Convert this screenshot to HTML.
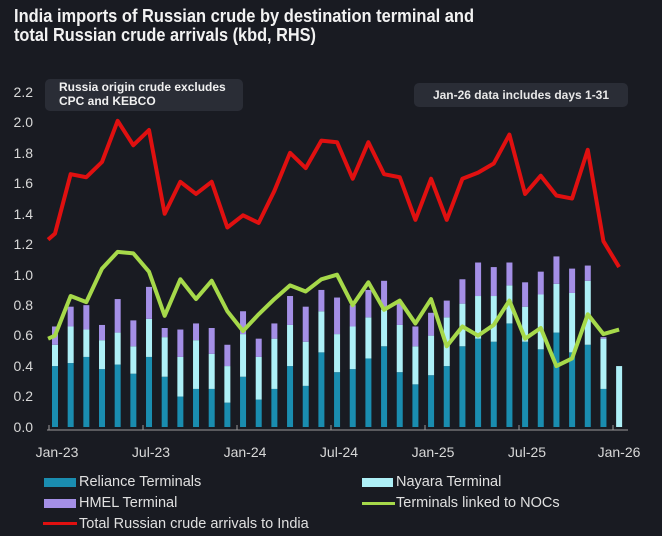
<!DOCTYPE html>
<html><head><meta charset="utf-8"><style>
html,body{margin:0;padding:0;background:#191b22;}
svg{display:block;}
text{font-family:"Liberation Sans",sans-serif;}
.ax{font-family:"Liberation Sans Narrow","Liberation Sans",sans-serif;font-size:14px;fill:#d8d8d8;}
.lg{font-family:"Liberation Sans Narrow","Liberation Sans",sans-serif;font-size:14.5px;fill:#e0e0e0;}
</style></head><body>
<svg width="662" height="536" viewBox="0 0 662 536" xmlns="http://www.w3.org/2000/svg">
<rect width="662" height="536" fill="#191b22"/>
<text x="14" y="22" font-size="18" font-weight="bold" fill="#f2f2f2" textLength="460" lengthAdjust="spacingAndGlyphs">India imports of Russian crude by destination terminal and</text>
<text x="14" y="41" font-size="18" font-weight="bold" fill="#f2f2f2" textLength="302" lengthAdjust="spacingAndGlyphs">total Russian crude arrivals (kbd, RHS)</text>

<g class="ax" text-anchor="end">
<text x="33" y="432">0.0</text><text x="33" y="401">0.2</text><text x="33" y="371">0.4</text><text x="33" y="340">0.6</text><text x="33" y="310">0.8</text><text x="33" y="280">1.0</text><text x="33" y="249">1.2</text><text x="33" y="219">1.4</text><text x="33" y="188">1.6</text><text x="33" y="158">1.8</text><text x="33" y="127">2.0</text><text x="33" y="97">2.2</text>
</g>

<rect x="45" y="79" width="198" height="32" rx="5" fill="#2a2d36"/>
<text x="59" y="91" font-size="12" font-weight="bold" fill="#f0f0f0">Russia origin crude excludes</text>
<text x="59" y="105" font-size="12" font-weight="bold" fill="#f0f0f0">CPC and KEBCO</text>
<rect x="414" y="83" width="214" height="24" rx="5" fill="#2a2d36"/>
<text x="521" y="99" font-size="12" font-weight="bold" fill="#e8e8e8" text-anchor="middle">Jan-26 data includes days 1-31</text>

<g transform="translate(52,427) scale(15.67,-152.3)">
<g fill="#1a8db0">
<rect x="0" y="0" width="0.383" height="0.40"/><rect x="1" y="0" width="0.383" height="0.42"/><rect x="2" y="0" width="0.383" height="0.46"/><rect x="3" y="0" width="0.383" height="0.38"/><rect x="4" y="0" width="0.383" height="0.41"/><rect x="5" y="0" width="0.383" height="0.35"/><rect x="6" y="0" width="0.383" height="0.46"/><rect x="7" y="0" width="0.383" height="0.33"/><rect x="8" y="0" width="0.383" height="0.20"/><rect x="9" y="0" width="0.383" height="0.25"/><rect x="10" y="0" width="0.383" height="0.25"/><rect x="11" y="0" width="0.383" height="0.16"/><rect x="12" y="0" width="0.383" height="0.33"/><rect x="13" y="0" width="0.383" height="0.18"/><rect x="14" y="0" width="0.383" height="0.25"/><rect x="15" y="0" width="0.383" height="0.40"/><rect x="16" y="0" width="0.383" height="0.27"/><rect x="17" y="0" width="0.383" height="0.49"/><rect x="18" y="0" width="0.383" height="0.36"/><rect x="19" y="0" width="0.383" height="0.38"/><rect x="20" y="0" width="0.383" height="0.45"/><rect x="21" y="0" width="0.383" height="0.53"/><rect x="22" y="0" width="0.383" height="0.36"/><rect x="23" y="0" width="0.383" height="0.28"/><rect x="24" y="0" width="0.383" height="0.34"/><rect x="25" y="0" width="0.383" height="0.40"/><rect x="26" y="0" width="0.383" height="0.53"/><rect x="27" y="0" width="0.383" height="0.58"/><rect x="28" y="0" width="0.383" height="0.56"/><rect x="29" y="0" width="0.383" height="0.68"/><rect x="30" y="0" width="0.383" height="0.56"/><rect x="31" y="0" width="0.383" height="0.51"/><rect x="32" y="0" width="0.383" height="0.62"/><rect x="33" y="0" width="0.383" height="0.49"/><rect x="34" y="0" width="0.383" height="0.54"/><rect x="35" y="0" width="0.383" height="0.25"/>
</g>
<g fill="#aef0f7">
<rect x="0" y="0.40" width="0.383" height="0.14"/><rect x="1" y="0.42" width="0.383" height="0.24"/><rect x="2" y="0.46" width="0.383" height="0.18"/><rect x="3" y="0.38" width="0.383" height="0.19"/><rect x="4" y="0.41" width="0.383" height="0.21"/><rect x="5" y="0.35" width="0.383" height="0.18"/><rect x="6" y="0.46" width="0.383" height="0.25"/><rect x="7" y="0.33" width="0.383" height="0.26"/><rect x="8" y="0.20" width="0.383" height="0.26"/><rect x="9" y="0.25" width="0.383" height="0.32"/><rect x="10" y="0.25" width="0.383" height="0.23"/><rect x="11" y="0.16" width="0.383" height="0.24"/><rect x="12" y="0.33" width="0.383" height="0.28"/><rect x="13" y="0.18" width="0.383" height="0.28"/><rect x="14" y="0.25" width="0.383" height="0.33"/><rect x="15" y="0.40" width="0.383" height="0.27"/><rect x="16" y="0.27" width="0.383" height="0.29"/><rect x="17" y="0.49" width="0.383" height="0.27"/><rect x="18" y="0.36" width="0.383" height="0.25"/><rect x="19" y="0.38" width="0.383" height="0.28"/><rect x="20" y="0.45" width="0.383" height="0.27"/><rect x="21" y="0.53" width="0.383" height="0.24"/><rect x="22" y="0.36" width="0.383" height="0.31"/><rect x="23" y="0.28" width="0.383" height="0.25"/><rect x="24" y="0.34" width="0.383" height="0.26"/><rect x="25" y="0.40" width="0.383" height="0.32"/><rect x="26" y="0.53" width="0.383" height="0.28"/><rect x="27" y="0.58" width="0.383" height="0.28"/><rect x="28" y="0.56" width="0.383" height="0.30"/><rect x="29" y="0.68" width="0.383" height="0.25"/><rect x="30" y="0.56" width="0.383" height="0.23"/><rect x="31" y="0.51" width="0.383" height="0.36"/><rect x="32" y="0.62" width="0.383" height="0.32"/><rect x="33" y="0.49" width="0.383" height="0.39"/><rect x="34" y="0.54" width="0.383" height="0.42"/><rect x="35" y="0.25" width="0.383" height="0.33"/><rect x="36" y="0" width="0.383" height="0.40"/>
</g>
<g fill="#a48fe6">
<rect x="0" y="0.54" width="0.383" height="0.12"/><rect x="1" y="0.66" width="0.383" height="0.13"/><rect x="2" y="0.64" width="0.383" height="0.16"/><rect x="3" y="0.57" width="0.383" height="0.10"/><rect x="4" y="0.62" width="0.383" height="0.22"/><rect x="5" y="0.53" width="0.383" height="0.17"/><rect x="6" y="0.71" width="0.383" height="0.21"/><rect x="7" y="0.59" width="0.383" height="0.06"/><rect x="8" y="0.46" width="0.383" height="0.18"/><rect x="9" y="0.57" width="0.383" height="0.11"/><rect x="10" y="0.48" width="0.383" height="0.17"/><rect x="11" y="0.40" width="0.383" height="0.14"/><rect x="12" y="0.61" width="0.383" height="0.15"/><rect x="13" y="0.46" width="0.383" height="0.12"/><rect x="14" y="0.58" width="0.383" height="0.10"/><rect x="15" y="0.67" width="0.383" height="0.19"/><rect x="16" y="0.56" width="0.383" height="0.23"/><rect x="17" y="0.76" width="0.383" height="0.14"/><rect x="18" y="0.61" width="0.383" height="0.24"/><rect x="19" y="0.66" width="0.383" height="0.14"/><rect x="20" y="0.72" width="0.383" height="0.18"/><rect x="21" y="0.77" width="0.383" height="0.19"/><rect x="22" y="0.67" width="0.383" height="0.15"/><rect x="23" y="0.53" width="0.383" height="0.13"/><rect x="24" y="0.60" width="0.383" height="0.15"/><rect x="25" y="0.72" width="0.383" height="0.11"/><rect x="26" y="0.81" width="0.383" height="0.16"/><rect x="27" y="0.86" width="0.383" height="0.22"/><rect x="28" y="0.86" width="0.383" height="0.19"/><rect x="29" y="0.93" width="0.383" height="0.15"/><rect x="30" y="0.79" width="0.383" height="0.16"/><rect x="31" y="0.87" width="0.383" height="0.15"/><rect x="32" y="0.94" width="0.383" height="0.18"/><rect x="33" y="0.88" width="0.383" height="0.16"/><rect x="34" y="0.96" width="0.383" height="0.10"/><rect x="35" y="0.58" width="0.383" height="0.01"/>
</g>
<polyline fill="none" stroke="#a6d94a" stroke-width="4" stroke-linejoin="round" vector-effect="non-scaling-stroke" points="-0.25,0.58 0.19,0.60 1.19,0.86 2.19,0.82 3.19,1.04 4.19,1.15 5.19,1.14 6.19,1.02 7.19,0.73 8.19,0.97 9.19,0.84 10.19,0.96 11.19,0.76 12.19,0.63 13.19,0.74 14.19,0.84 15.19,0.93 16.19,0.89 17.19,0.97 18.19,1.00 19.19,0.80 20.19,0.95 21.19,0.77 22.19,0.83 23.19,0.68 24.19,0.84 25.19,0.53 26.19,0.66 27.19,0.60 28.19,0.67 29.19,0.83 30.19,0.58 31.19,0.65 32.19,0.40 33.19,0.45 34.19,0.74 35.19,0.61 36.19,0.64"/>
<polyline fill="none" stroke="#e01010" stroke-width="4" stroke-linejoin="round" vector-effect="non-scaling-stroke" points="-0.25,1.23 0.19,1.27 1.19,1.66 2.19,1.64 3.19,1.74 4.19,2.01 5.19,1.85 6.19,1.95 7.19,1.40 8.19,1.61 9.19,1.53 10.19,1.61 11.19,1.31 12.19,1.39 13.19,1.34 14.19,1.55 15.19,1.80 16.19,1.70 17.19,1.88 18.19,1.87 19.19,1.63 20.19,1.87 21.19,1.66 22.19,1.64 23.19,1.36 24.19,1.63 25.19,1.36 26.19,1.63 27.19,1.67 28.19,1.73 29.19,1.92 30.19,1.53 31.19,1.65 32.19,1.52 33.19,1.50 34.19,1.82 35.19,1.22 36.19,1.05"/>
</g>

<line x1="47" y1="430" x2="628" y2="430" stroke="#9a9a9a" stroke-width="1"/>
<g stroke="#9a9a9a" stroke-width="1">
<line x1="49" y1="425" x2="49" y2="430"/><line x1="143" y1="425" x2="143" y2="430"/><line x1="237" y1="425" x2="237" y2="430"/><line x1="331" y1="425" x2="331" y2="430"/><line x1="425" y1="425" x2="425" y2="430"/><line x1="519" y1="425" x2="519" y2="430"/><line x1="613" y1="425" x2="613" y2="430"/>
</g>
<g class="ax" text-anchor="middle">
<text x="57" y="457">Jan-23</text><text x="151" y="457">Jul-23</text><text x="245" y="457">Jan-24</text><text x="339" y="457">Jul-24</text><text x="433" y="457">Jan-25</text><text x="527" y="457">Jul-25</text><text x="619" y="457">Jan-26</text>
</g>

<rect x="44" y="478" width="32" height="9" fill="#1a8db0"/>
<text class="lg" x="79" y="486">Reliance Terminals</text>
<rect x="362" y="478" width="31" height="9" fill="#aef0f7"/>
<text class="lg" x="396" y="486">Nayara Terminal</text>
<rect x="44" y="499" width="32" height="9" fill="#a48fe6"/>
<text class="lg" x="79" y="507">HMEL Terminal</text>
<rect x="362" y="502" width="33" height="3" fill="#a6d94a"/>
<text class="lg" x="396" y="507">Terminals linked to NOCs</text>
<rect x="43" y="522" width="34" height="3" fill="#e01010"/>
<text class="lg" x="79" y="528">Total Russian crude arrivals to India</text>
</svg>
</body></html>
